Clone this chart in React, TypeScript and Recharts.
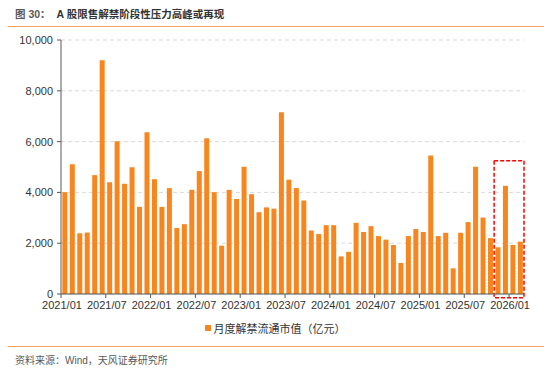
import React from 'react';
import { BarChart, Bar, XAxis, YAxis, CartesianGrid, ReferenceArea } from 'recharts';

// 2021/01 - 2026/02, monthly
const months = [
  '2021/01', '2021/02', '2021/03', '2021/04', '2021/05', '2021/06', '2021/07', '2021/08', '2021/09', '2021/10', '2021/11', '2021/12',
  '2022/01', '2022/02', '2022/03', '2022/04', '2022/05', '2022/06', '2022/07', '2022/08', '2022/09', '2022/10', '2022/11', '2022/12',
  '2023/01', '2023/02', '2023/03', '2023/04', '2023/05', '2023/06', '2023/07', '2023/08', '2023/09', '2023/10', '2023/11', '2023/12',
  '2024/01', '2024/02', '2024/03', '2024/04', '2024/05', '2024/06', '2024/07', '2024/08', '2024/09', '2024/10', '2024/11', '2024/12',
  '2025/01', '2025/02', '2025/03', '2025/04', '2025/05', '2025/06', '2025/07', '2025/08', '2025/09', '2025/10', '2025/11', '2025/12',
  '2026/01', '2026/02',
];

// 月度解禁流通市值（亿元）
const unlockValue = [
  4010, 5110, 2390, 2420, 4680, 9200, 4400, 6010, 4340, 4990, 3430, 6370,
  4520, 3430, 4170, 2600, 2750, 4100, 4840, 6130, 4010, 1900, 4100, 3740,
  5010, 3930, 3220, 3410, 3360, 7160, 4500, 4170, 3680, 2500, 2360, 2710,
  2710, 1480, 1660, 2800, 2440, 2670, 2280, 2140, 1930, 1220, 2280, 2560,
  2440, 5450, 2280, 2410, 1010, 2410, 2830, 5010, 3010, 2200, 1840, 4260,
  1930, 2060,
];

const yTicks = [0, 2000, 4000, 6000, 8000, 10000];

// highlighted window
const boxStart = '2025/11';
const boxEnd = '2026/02';
const boxTop = 5250;

const data = months.map((m, i) => ({ month: m, value: unlockValue[i] }));

const FONT = '"Liberation Sans", Arial, "Noto Sans CJK SC", sans-serif';
const ORANGE = '#F7861E';
const BAND = 463 / months.length;

const MonthTick = (props: any) => {
  const { x, y, payload } = props;
  const x0 = x - BAND / 2;
  return (
    <g>
      <line x1={x0} y1={y} x2={x0} y2={y + 4} stroke="#595959" />
      <text x={x0 + 1} y={y + 7} dy="0.71em" textAnchor="middle" fontSize={11} fill="#333" fontFamily={FONT}>
        {payload.value}
      </text>
    </g>
  );
};

export default function App() {
  return (
    <div style={{ position: 'fixed', top: 0, left: 0, width: 550, height: 368, background: '#fff', fontFamily: FONT }}>
      <div style={{ position: 'absolute', top: 6, left: 15, fontSize: 10.5, fontWeight: 'bold', color: '#333', whiteSpace: 'nowrap' }}>
        <span style={{ color: '#595959' }}>图 30：</span>
        <span style={{ marginLeft: 6 }}>A 股限售解禁阶段性压力高峰或再现</span>
      </div>
      <div style={{ position: 'absolute', top: 26, left: 8, width: 536, height: 1, background: '#F4A460' }} />

      <BarChart
        width={550}
        height={320}
        data={data}
        margin={{ top: 40, right: 26, left: 8, bottom: 6 }}
        barCategoryGap="18%"
      >
        <CartesianGrid vertical={false} stroke="#d9d9d9" strokeDasharray="4 3" />
        <XAxis
          dataKey="month"
          interval={5}
          height={20}
          tickSize={0}
          tickMargin={0}
          tickLine={false}
          axisLine={{ stroke: '#595959' }}
          tick={<MonthTick />}
        />
        <YAxis
          width={53}
          domain={[0, 10000]}
          ticks={yTicks}
          tickSize={4}
          tickMargin={4}
          axisLine={{ stroke: '#595959' }}
          tickLine={{ stroke: '#595959' }}
          tick={{ fontSize: 11, fill: '#333', fontFamily: FONT }}
          tickFormatter={(v: number) => v.toLocaleString('en-US')}
        />
        <Bar dataKey="value" fill={ORANGE} isAnimationActive={false} />
        <ReferenceArea
          x1={boxStart}
          x2={boxEnd}
          y1={-150}
          y2={boxTop}
          ifOverflow="visible"
          fill="none"
          stroke="#FF0000"
          strokeWidth={1.5}
          strokeDasharray="4 2"
        />
      </BarChart>

      <div style={{ position: 'absolute', top: 320, left: 0, width: 550, textAlign: 'center', fontSize: 11, color: '#333' }}>
        <span style={{ display: 'inline-block', width: 6, height: 6, background: ORANGE, marginRight: 3, verticalAlign: 'middle' }} />
        <span style={{ verticalAlign: 'middle' }}>月度解禁流通市值（亿元）</span>
      </div>

      <div style={{ position: 'absolute', top: 346, left: 8, width: 536, height: 1, background: '#F4A460' }} />
      <div style={{ position: 'absolute', top: 352, left: 15, fontSize: 10, color: '#595959' }}>
        资料来源：Wind，天风证券研究所
      </div>
    </div>
  );
}
